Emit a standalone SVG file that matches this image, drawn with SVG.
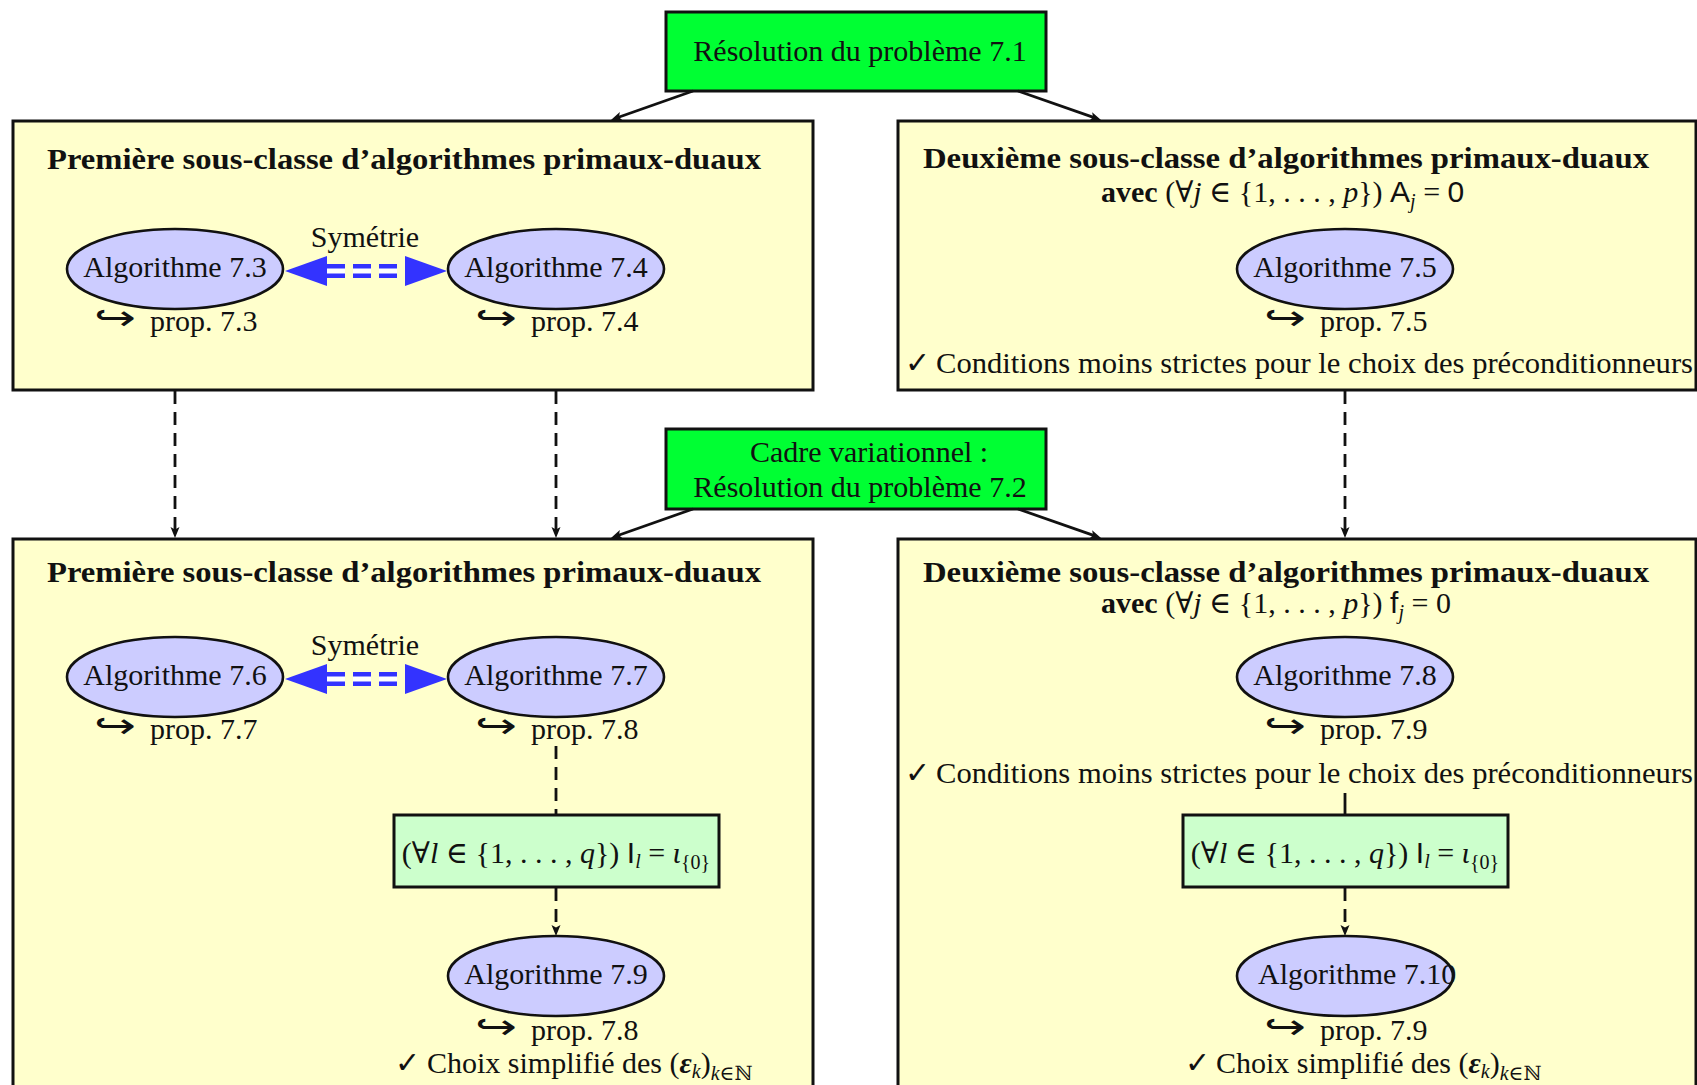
<svg xmlns="http://www.w3.org/2000/svg" width="1697" height="1085" viewBox="0 0 1697 1085">
<style>
text{font-family:"Liberation Serif","DejaVu Serif",serif;font-size:30px;fill:#111}
.b{font-weight:bold}
.i{font-style:italic}
.ss{font-family:"Liberation Sans","DejaVu Sans",sans-serif}
.sym{font-family:"DejaVu Sans",sans-serif}
.hook{font-family:"DejaVu Sans",sans-serif;font-size:36px}
.sub{font-size:20px}
.green{fill:#00ff33;stroke:#111;stroke-width:3}
.box{fill:#ffffcc;stroke:#111;stroke-width:3}
.alg{fill:#ccccff;stroke:#111;stroke-width:2.6}
.cond{fill:#ccffcc;stroke:#111;stroke-width:3}
.mid{text-anchor:middle}
.ln{stroke:#111;stroke-width:2.8;fill:none}
.dash{stroke-dasharray:13 8}
</style>
<defs>
<marker id="ah" markerWidth="12" markerHeight="10" refX="3" refY="5" orient="auto" markerUnits="userSpaceOnUse">
<path d="M0,0.5 L11,5 L0,9.5 L2.5,5 Z" fill="#111"/>
</marker>
</defs>

<g id="boxes">
<g id="box-top-left"><rect class="box" x="13" y="121" width="800" height="269"/>
<text class="b" x="47" y="169" font-size="31" textLength="714" lengthAdjust="spacingAndGlyphs">Première sous-classe d’algorithmes primaux-duaux</text></g>
<g id="box-top-right"><rect class="box" x="898" y="121" width="798" height="269"/>
<text class="b" x="923" y="168" font-size="31" textLength="726" lengthAdjust="spacingAndGlyphs">Deuxième sous-classe d’algorithmes primaux-duaux</text>
<text x="1101" y="202"><tspan class="b">avec</tspan> (∀<tspan class="i">j</tspan> ∈ {1, . . . , <tspan class="i">p</tspan>}) <tspan class="ss">A</tspan><tspan class="i sub" dy="6">j</tspan><tspan dy="-6"> = </tspan><tspan class="ss">0</tspan></text>
<text class="sym" x="905" y="373" font-size="26">✓</text>
<text x="936" y="373" textLength="757" lengthAdjust="spacingAndGlyphs">Conditions moins strictes pour le choix des préconditionneurs</text></g>
<g id="box-bottom-left"><rect class="box" x="13" y="539" width="800" height="600"/>
<text class="b" x="47" y="582" font-size="31" textLength="714" lengthAdjust="spacingAndGlyphs">Première sous-classe d’algorithmes primaux-duaux</text>
<text class="sym" x="395" y="1073" font-size="26">✓</text>
<text x="427" y="1073">Choix simplifié des (<tspan class="b i">ε</tspan><tspan class="i sub" dy="5">k</tspan><tspan dy="-5">)</tspan><tspan class="sub" dy="7"><tspan class="i">k</tspan>∈ℕ</tspan></text></g>
<g id="box-bottom-right"><rect class="box" x="898" y="539" width="798" height="600"/>
<text class="b" x="923" y="582" font-size="31" textLength="726" lengthAdjust="spacingAndGlyphs">Deuxième sous-classe d’algorithmes primaux-duaux</text>
<text x="1101" y="613"><tspan class="b">avec</tspan> (∀<tspan class="i">j</tspan> ∈ {1, . . . , <tspan class="i">p</tspan>}) <tspan class="ss">f</tspan><tspan class="i sub" dy="6">j</tspan><tspan dy="-6"> = 0</tspan></text>
<text class="sym" x="905" y="783" font-size="26">✓</text>
<text x="936" y="783" textLength="757" lengthAdjust="spacingAndGlyphs">Conditions moins strictes pour le choix des préconditionneurs</text>
<text class="sym" x="1185" y="1073" font-size="26">✓</text>
<text x="1216" y="1073">Choix simplifié des (<tspan class="b i">ε</tspan><tspan class="i sub" dy="5">k</tspan><tspan dy="-5">)</tspan><tspan class="sub" dy="7"><tspan class="i">k</tspan>∈ℕ</tspan></text></g>
</g>

<g id="n-res71"><rect class="green" x="666" y="12" width="380" height="79"/>
<text class="mid" x="860" y="61">Résolution du problème 7.1</text></g>
<g id="n-res72"><rect class="green" x="666" y="429" width="380" height="80"/>
<text class="mid" x="869" y="462">Cadre variationnel :</text>
<text class="mid" x="860" y="497">Résolution du problème 7.2</text></g>

<g id="connectors">
<path class="ln" d="M693,91 L618.5,117.3" marker-end="url(#ah)"/>
<path class="ln" d="M1018,91 L1093.5,117.4" marker-end="url(#ah)"/>
<path class="ln" d="M693,509 L618.5,535.3" marker-end="url(#ah)"/>
<path class="ln" d="M1018,509 L1093.5,535.4" marker-end="url(#ah)"/>
<path class="ln dash" d="M175,391 L175,530" marker-end="url(#ah)"/>
<path class="ln dash" d="M556,391 L556,530" marker-end="url(#ah)"/>
<path class="ln dash" d="M1345,391 L1345,530" marker-end="url(#ah)"/>
<path class="ln dash" d="M556,746 L556,815"/>
<path class="ln dash" d="M556,888 L556,928" marker-end="url(#ah)"/>
<path class="ln" d="M1345,793 L1345,815"/>
<path class="ln dash" d="M1345,888 L1345,928" marker-end="url(#ah)"/>
<g id="sym-top">
<path d="M327,271 L405,271" stroke="#3333ff" stroke-width="14" stroke-dasharray="18 8" fill="none"/>
<path d="M327,271 L405,271" stroke="#ffffff" stroke-width="5" stroke-dasharray="18 8" fill="none"/>
<polygon points="285,271 327,256 327,286" fill="#3333ff"/>
<polygon points="447,271 405,256 405,286" fill="#3333ff"/>
<text class="mid" x="365" y="247">Symétrie</text>
</g>
<g id="sym-bottom">
<path d="M327,679 L405,679" stroke="#3333ff" stroke-width="14" stroke-dasharray="18 8" fill="none"/>
<path d="M327,679 L405,679" stroke="#ffffff" stroke-width="5" stroke-dasharray="18 8" fill="none"/>
<polygon points="285,679 327,664 327,694" fill="#3333ff"/>
<polygon points="447,679 405,664 405,694" fill="#3333ff"/>
<text class="mid" x="365" y="655">Symétrie</text>
</g>
</g>

<g id="n-alg73"><ellipse class="alg" cx="175" cy="269" rx="108" ry="40"/>
<text class="mid" x="175" y="277">Algorithme 7.3</text>
<text class="hook" x="94" y="330" textLength="42" lengthAdjust="spacingAndGlyphs">↪</text>
<text x="150" y="331">prop. 7.3</text></g>
<g id="n-alg74"><ellipse class="alg" cx="556" cy="269" rx="108" ry="40"/>
<text class="mid" x="556" y="277">Algorithme 7.4</text>
<text class="hook" x="475" y="330" textLength="42" lengthAdjust="spacingAndGlyphs">↪</text>
<text x="531" y="331">prop. 7.4</text></g>
<g id="n-alg75"><ellipse class="alg" cx="1345" cy="269" rx="108" ry="40"/>
<text class="mid" x="1345" y="277">Algorithme 7.5</text>
<text class="hook" x="1264" y="330" textLength="42" lengthAdjust="spacingAndGlyphs">↪</text>
<text x="1320" y="331">prop. 7.5</text></g>
<g id="n-alg76"><ellipse class="alg" cx="175" cy="677" rx="108" ry="40"/>
<text class="mid" x="175" y="685">Algorithme 7.6</text>
<text class="hook" x="94" y="738" textLength="42" lengthAdjust="spacingAndGlyphs">↪</text>
<text x="150" y="739">prop. 7.7</text></g>
<g id="n-alg77"><ellipse class="alg" cx="556" cy="677" rx="108" ry="40"/>
<text class="mid" x="556" y="685">Algorithme 7.7</text>
<text class="hook" x="475" y="738" textLength="42" lengthAdjust="spacingAndGlyphs">↪</text>
<text x="531" y="739">prop. 7.8</text></g>
<g id="n-alg78"><ellipse class="alg" cx="1345" cy="677" rx="108" ry="40"/>
<text class="mid" x="1345" y="685">Algorithme 7.8</text>
<text class="hook" x="1264" y="738" textLength="42" lengthAdjust="spacingAndGlyphs">↪</text>
<text x="1320" y="739">prop. 7.9</text></g>
<g id="n-cond-left"><rect class="cond" x="394" y="815" width="325" height="72"/>
<text class="mid" x="556" y="863">(∀<tspan class="i">l</tspan> ∈ {1, . . . , <tspan class="i">q</tspan>}) <tspan class="ss">I</tspan><tspan class="i sub" dy="5">l</tspan><tspan dy="-5"> = </tspan><tspan class="i">ι</tspan><tspan class="sub" dy="6">{0}</tspan></text></g>
<g id="n-cond-right"><rect class="cond" x="1183" y="815" width="325" height="72"/>
<text class="mid" x="1345" y="863">(∀<tspan class="i">l</tspan> ∈ {1, . . . , <tspan class="i">q</tspan>}) <tspan class="ss">I</tspan><tspan class="i sub" dy="5">l</tspan><tspan dy="-5"> = </tspan><tspan class="i">ι</tspan><tspan class="sub" dy="6">{0}</tspan></text></g>
<g id="n-alg79"><ellipse class="alg" cx="556" cy="976" rx="108" ry="40"/>
<text class="mid" x="556" y="984">Algorithme 7.9</text>
<text class="hook" x="475" y="1039" textLength="42" lengthAdjust="spacingAndGlyphs">↪</text>
<text x="531" y="1040">prop. 7.8</text></g>
<g id="n-alg710"><ellipse class="alg" cx="1345" cy="976" rx="108" ry="40"/>
<text x="1258" y="984">Algorithme 7.10</text>
<text class="hook" x="1264" y="1039" textLength="42" lengthAdjust="spacingAndGlyphs">↪</text>
<text x="1320" y="1040">prop. 7.9</text></g>
</svg>
